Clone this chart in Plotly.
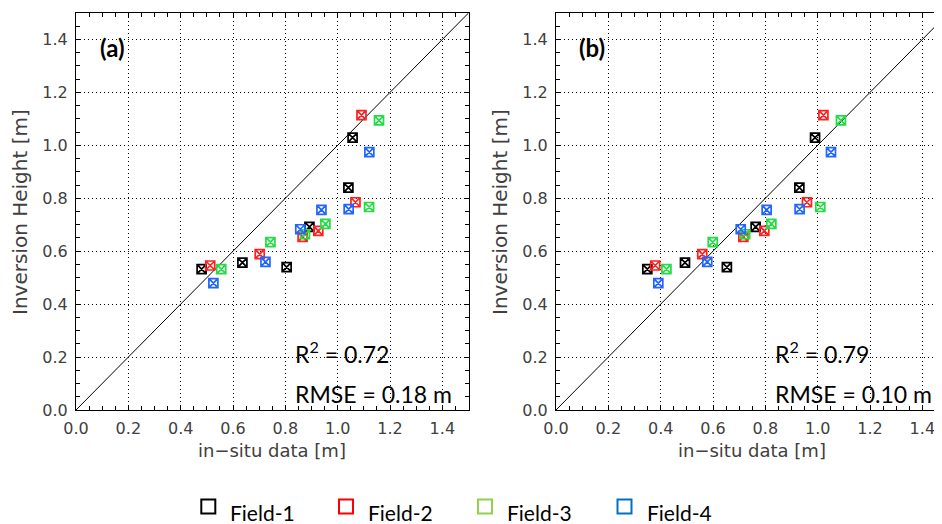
import plotly.graph_objects as go

# ---------------- data ----------------
fields = ["Field-1", "Field-2", "Field-3", "Field-4"]
marker_colors = ["#000000", "#ff2020", "#22dd44", "#2266ff"]
legend_colors = ["#000000", "#ff0000", "#92d050", "#0070c0"]

# inversion height (retrieved) [m]
inv_height_f1 = [0.532, 0.557, 0.540, 0.692, 0.840, 1.029]
inv_height_f2 = [0.546, 0.589, 0.654, 0.677, 0.785, 1.114]
inv_height_f3 = [0.532, 0.634, 0.664, 0.703, 0.767, 1.094]
inv_height_f4 = [0.479, 0.560, 0.683, 0.756, 0.759, 0.974]

# in-situ data, panel (a)
insitu_a_f1 = [0.480, 0.636, 0.805, 0.892, 1.041, 1.057]
insitu_a_f2 = [0.513, 0.702, 0.866, 0.926, 1.068, 1.091]
insitu_a_f3 = [0.555, 0.743, 0.875, 0.953, 1.120, 1.158]
insitu_a_f4 = [0.525, 0.724, 0.857, 0.938, 1.042, 1.121]

# in-situ data, panel (b)
insitu_b_f1 = [0.349, 0.493, 0.653, 0.763, 0.930, 0.990]
insitu_b_f2 = [0.379, 0.559, 0.716, 0.796, 0.959, 1.022]
insitu_b_f3 = [0.422, 0.599, 0.723, 0.823, 1.010, 1.089]
insitu_b_f4 = [0.391, 0.578, 0.706, 0.805, 0.931, 1.051]

one_to_one = [0.0, 1.5]
tick_vals = [0.0, 0.2, 0.4, 0.6, 0.8, 1.0, 1.2, 1.4]
stats_a = ["0.72", "0.18 m"]
stats_b = ["0.79", "0.10 m"]

inv_all = [inv_height_f1, inv_height_f2, inv_height_f3, inv_height_f4]
xa_all = [insitu_a_f1, insitu_a_f2, insitu_a_f3, insitu_a_f4]
xb_all = [insitu_b_f1, insitu_b_f2, insitu_b_f3, insitu_b_f4]

# ---------------- figure ----------------
OFF = 8                      # page body margin
W, H = 942 - OFF, 524 - OFF
fig = go.Figure()

for xs, xref, yref in [(xa_all, "x", "y"), (xb_all, "x2", "y2")]:
    fig.add_trace(go.Scatter(x=one_to_one, y=one_to_one, mode="lines",
                             line=dict(color="black", width=1),
                             xaxis=xref, yaxis=yref, showlegend=False, hoverinfo="skip"))
    for name, col, xv, yv in zip(fields, marker_colors, xs, inv_all):
        fig.add_trace(go.Scatter(x=xv, y=yv, mode="markers", name=name,
                                 marker=dict(symbol="square-x-open", size=9, color=col,
                                             line=dict(width=1.7, color=col)),
                                 xaxis=xref, yaxis=yref, showlegend=False))

tickfont = dict(family="DejaVu Sans", size=16, color="#404040")


def axis(rng, domain=None, mirror="ticks", standoff=4):
    d = dict(range=rng, showline=True, linecolor="black", linewidth=1, mirror=mirror,
             ticks="inside", ticklen=4, tickcolor="black", tickwidth=1,
             tickvals=tick_vals, tickformat=".1f", tickfont=tickfont,
             ticklabelstandoff=standoff,
             showgrid=True, gridcolor="black", griddash="1px,3px", gridwidth=1,
             zeroline=False, fixedrange=True, automargin=False,
             minor=dict(dtick=0.05, tick0=0, ticks="inside", ticklen=4,
                        tickcolor="black", showgrid=False))
    if domain is not None:
        d["domain"] = domain
    return d


# plot-area pixel positions (figure coords)
x_left_a, x_right_a = 76 - OFF, 468.5 - OFF
x_left_b = 556 - OFF
top_px, bottom_px = 13 - OFF, 410 - OFF
px_per_unit = (x_right_a - x_left_a) / 1.5
xb_max = (W - x_left_b) / px_per_unit
plot_h = bottom_px - top_px


def py(p):  # window pixel y -> paper y
    return (bottom_px - (p - OFF)) / plot_h


def pxp(p):  # window pixel x -> paper x
    return (p - OFF) / W


fig.update_layout(
    width=W, height=H, autosize=False,
    margin=dict(l=0, r=0, t=top_px, b=H - bottom_px),
    paper_bgcolor="white", plot_bgcolor="white",
    xaxis=axis([0, 1.5], [x_left_a / W, x_right_a / W], standoff=4),
    yaxis=axis([0, 1.5], None),
    xaxis2=axis([0, xb_max], [x_left_b / W, 1.0], standoff=4),
    yaxis2=axis([0, 1.5], None, mirror=False),
    showlegend=False,
)
fig.layout.yaxis2.anchor = "x2"
fig.layout.xaxis2.anchor = "y2"
fig.layout.yaxis2.domain = [0, 1]

ann = []
for xr, yr, lab, st in [("x", "y", "(a)", stats_a), ("x2", "y2", "(b)", stats_b)]:
    ann.append(dict(xref=xr, yref=yr, x=0.138, y=1.371, text="<b>" + lab + "</b>",
                    showarrow=False, xanchor="center", yanchor="middle",
                    font=dict(family="Lato", size=24, color="black")))
    ann.append(dict(xref=xr, yref=yr, x=0.83, y=0.218, text="R<sup>2</sup> = " + st[0],
                    showarrow=False, xanchor="left", yanchor="middle",
                    font=dict(family="Lato", size=23, color="black")))
    ann.append(dict(xref=xr, yref=yr, x=0.83, y=0.06, text="RMSE = " + st[1],
                    showarrow=False, xanchor="left", yanchor="middle",
                    font=dict(family="Lato", size=23, color="black")))
    ann.append(dict(xref=xr, yref="paper", x=0.75, y=py(451), text="in\u2212situ data [m]",
                    showarrow=False, xanchor="center", yanchor="middle",
                    font=dict(family="DejaVu Sans", size=18, color="#404040")))

for px in [20, 500]:
    ann.append(dict(xref="paper", yref="paper", x=pxp(px), y=py(212), text="Inversion Height [m]",
                    textangle=-90, showarrow=False, xanchor="center", yanchor="middle",
                    font=dict(family="DejaVu Sans", size=20, color="#404040")))

# legend: open squares + labels below the panels
legend_square_x = [208.3, 346.0, 485.0, 624.5]
shapes = []
for name, col, sx in zip(fields, legend_colors, legend_square_x):
    shapes.append(dict(type="rect", xref="paper", yref="paper",
                       xsizemode="pixel", ysizemode="pixel",
                       xanchor=pxp(sx), yanchor=py(506.5),
                       x0=-7, x1=7, y0=-7, y1=7,
                       line=dict(color=col, width=2), fillcolor="rgba(0,0,0,0)"))
    ann.append(dict(xref="paper", yref="paper", x=pxp(sx + 20), y=py(512), text=name,
                    showarrow=False, xanchor="left", yanchor="middle",
                    font=dict(family="Lato", size=21, color="black")))

fig.update_layout(annotations=ann, shapes=shapes)

fig.write_html("out.html")
